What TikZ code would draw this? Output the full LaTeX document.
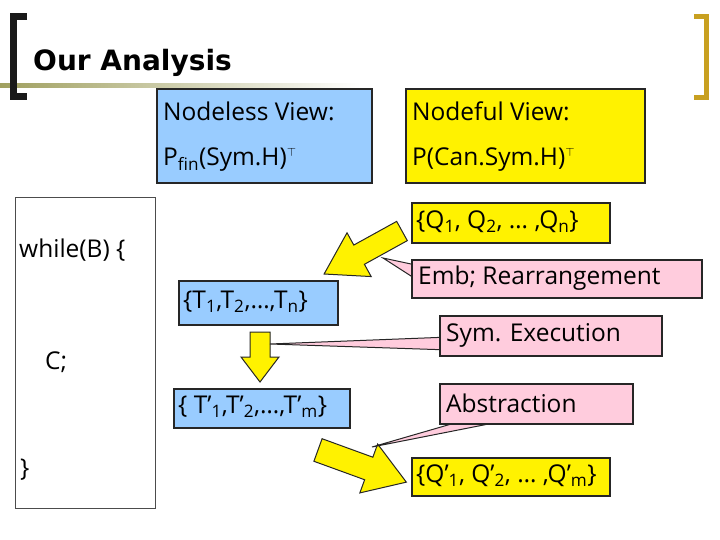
\documentclass[tikz,border=0pt]{standalone}
\usepackage{fontspec}
\setmainfont{Open Sans}
\newfontfamily\titlefont{DejaVu Sans}
\begin{document}
\begin{tikzpicture}[x=1pt,y=1pt,
  box/.style={draw=black!85,line width=1.6pt,inner sep=0pt,anchor=north west},
  blue/.style={box,fill=bluebox},
  yel/.style={box,fill=yellow},
  pink/.style={box,fill=pinkbox},
  arr/.style={fill=yellow,draw=black!85,line width=1pt},
  call/.style={fill=pinkbox,draw=black!85,line width=1pt},
  txt/.style={font=\fontsize{24.5}{26}\selectfont,inner sep=0pt}]
\definecolor{bluebox}{HTML}{99CCFF}
\definecolor{pinkbox}{HTML}{FFCCDD}
\definecolor{olivel}{HTML}{A0A060}
\definecolor{goldb}{HTML}{C8A020}
\useasboundingbox (0,0) rectangle (720,-540);
% gradient rule
\shade[left color=olivel,right color=white] (0,-84) rectangle (360,-88);
% brackets
\draw[line width=7pt,black!90] (27,-16.5) -- (13.5,-16.5) -- (13.5,-97) -- (27,-97);
\draw[line width=5pt,goldb] (694,-17) -- (706.5,-17) -- (706.5,-98) -- (694,-98);
\node[anchor=west,inner sep=0pt,font=\titlefont\bfseries\fontsize{28}{30}\selectfont] (title) at (33,-63) {Our Analysis};
% view boxes
\node[blue,minimum width=215pt,minimum height=94pt] (nl) at (156,-88) {};
\node[txt,anchor=west] (nlt) at (163,-111) {Nodeless View:};
\node[txt,anchor=west] (nlp) at (163,-160) {P\textsubscript{fin}(Sym.H)\textsuperscript{\fontsize{12}{12}\selectfont$\top$}};
\node[yel,minimum width=239pt,minimum height=94pt] (nf) at (405,-88) {};
\node[txt,anchor=west] (nft) at (412,-111) {Nodeful View:};
\node[txt,anchor=west] (nfp) at (412,-160) {P(Can.Sym.H)\textsuperscript{\fontsize{12}{12}\selectfont$\top$}};
% while box
\node[draw=black!70,line width=0.8pt,anchor=north west,minimum width=140pt,minimum height=311pt,inner sep=0pt] (wb) at (15,-197) {};
\node[txt,anchor=west] (w1) at (19,-250) {while(B) \{};
\node[txt,anchor=west] (w2) at (45,-362) {C;};
\node[txt,anchor=west] (w3) at (20,-470) {\}};
% block arrows
\begin{scope}[shift={(402,-231)},rotate=208.9]
\draw[arr] (0,11) -- (49,11) -- (49,25) -- (89,0) -- (49,-25) -- (49,-11) -- (0,-11) -- cycle;
\end{scope}
\begin{scope}[shift={(318,-450)},rotate=-20]
\draw[arr] (0,12) -- (54,12) -- (54,26) -- (94,0) -- (54,-26) -- (54,-12) -- (0,-12) -- cycle;
\end{scope}
\draw[arr] (250,-332) -- (270,-332) -- (270,-357) -- (279,-357) -- (260,-382) -- (241,-357) -- (250,-357) -- cycle;
% callout pointers (bases hidden under boxes)
\coordinate (e1) at (383,-258);
\coordinate (s1) at (270,-344);
\coordinate (a1) at (372,-447);
\draw[call] (e1) -- (425,-267) -- (425,-285) -- cycle;
\draw[call] (s1) -- (450,-337) -- (450,-350) -- cycle;
\draw[call] (a1) -- (472,-418) -- (519,-418) -- cycle;
% right boxes
\node[yel,minimum width=198pt,minimum height=40pt] (q) at (411,-202) {};
\node[txt,anchor=west] (qt) at (416,-222) {\{Q\textsubscript{1}, Q\textsubscript{2}, … ,Q\textsubscript{n}\}};
\node[pink,minimum width=290pt,minimum height=38pt] (emb) at (411,-259) {};
\node[txt,anchor=west] (embt) at (418,-278) {Emb; Rearrangement};
\node[pink,minimum width=222pt,minimum height=40pt] (sym) at (439,-315) {};
\node[txt,anchor=west] (symt) at (446,-335) {Sym. Execution};
\node[pink,minimum width=193pt,minimum height=40pt] (abs) at (439,-383) {};
\node[txt,anchor=west] (abst) at (446,-403) {Abstraction};
\node[yel,minimum width=198pt,minimum height=38pt] (qp) at (411,-457) {};
\node[txt,anchor=west] (qpt) at (416,-476) {\{Q’\textsubscript{1}, Q’\textsubscript{2}, … ,Q’\textsubscript{m}\}};
% T boxes
\node[blue,minimum width=159pt,minimum height=44pt] (t) at (178,-280) {};
\node[txt,anchor=west] (tt) at (183,-302) {\{T\textsubscript{1},T\textsubscript{2},…,T\textsubscript{n}\}};
\node[blue,minimum width=176pt,minimum height=39pt] (tp) at (173,-388) {};
\node[txt,anchor=west] (tpt) at (178,-407) {\{ T’\textsubscript{1},T’\textsubscript{2},…,T’\textsubscript{m}\}};
\end{tikzpicture}
\end{document}
